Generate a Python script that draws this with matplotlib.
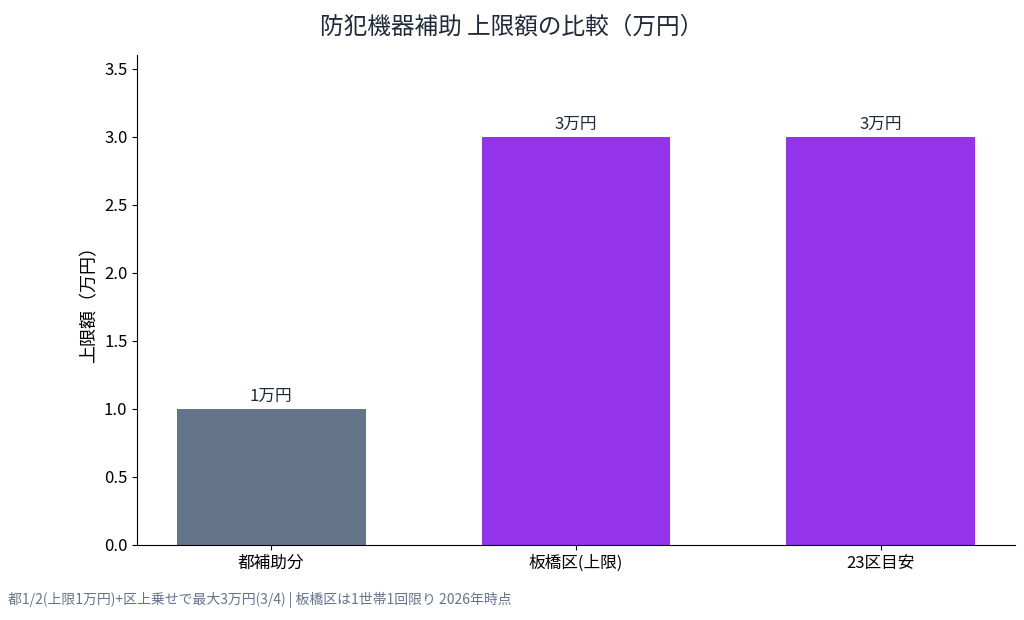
import matplotlib
matplotlib.use("Agg")
import matplotlib.pyplot as plt

plt.rcParams['font.family'] = ['Noto Sans CJK JP', 'DejaVu Sans']

categories = ['都補助分', '板橋区(上限)', '23区目安']
values = [1, 3, 3]
labels = ['1万円', '3万円', '3万円']
colors = ['#64748b', '#9333ea', '#9333ea']

fig = plt.figure(figsize=(10.24, 6.2), dpi=100)
ax = fig.add_axes([0.134, 0.121, 0.857, 0.79])

bars = ax.bar(range(len(categories)), values, width=0.62, color=colors)
for b, lab in zip(bars, labels):
    ax.text(b.get_x() + b.get_width() / 2, b.get_height() + 0.03, lab,
            ha='center', va='bottom', fontsize=12, color='#1e293b')

ax.set_xticks(range(len(categories)))
ax.set_xticklabels(categories, fontsize=12)
ax.set_xlim(-0.44, 2.44)
ax.set_ylim(0, 3.6)
ax.set_yticks([0, 0.5, 1.0, 1.5, 2.0, 2.5, 3.0, 3.5])
ax.tick_params(axis='y', labelsize=12)
ax.set_ylabel('上限額（万円）', fontsize=13)
ax.spines['top'].set_visible(False)
ax.spines['right'].set_visible(False)

fig.suptitle('防犯機器補助 上限額の比較（万円）', fontsize=17, color='#1e293b', y=0.975)
fig.text(0.008, 0.025, '都1/2(上限1万円)+区上乗せで最大3万円(3/4) | 板橋区は1世帯1回限り 2026年時点',
         fontsize=10, color='#64748b')

fig.savefig('out.png', dpi=100)
